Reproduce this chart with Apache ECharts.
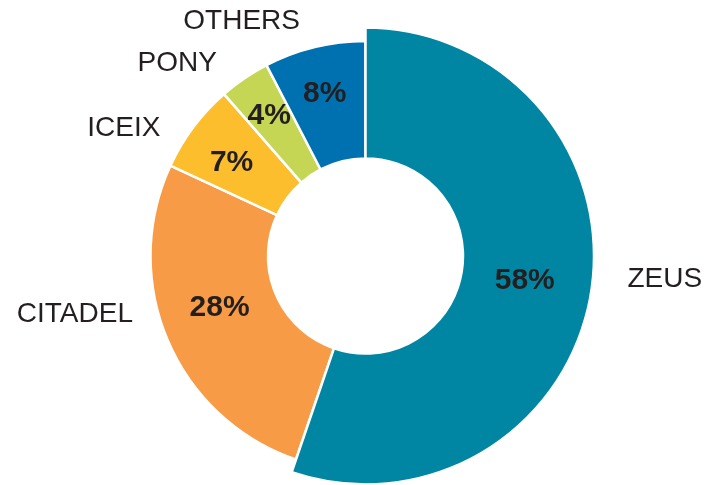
<!DOCTYPE html>
<html>
<head>
<meta charset="utf-8">
<script src="https://cdn.jsdelivr.net/npm/echarts@6/dist/echarts.min.js"></script>
<style>
  html, body { margin: 0; padding: 0; background: #ffffff; }
  #chart { width: 723px; height: 485px; }
</style>
</head>
<body>
<div id="chart"></div>
<script>
// ---- data ----
const categories = ['ZEUS', 'CITADEL', 'ICEIX', 'PONY', 'OTHERS'];
const shares = [58, 28, 7, 4, 8];

// ---- styles ----
const sliceColors = ['#0086A3', '#F89B46', '#FDBE2D', '#C5D654', '#0071B0'];
const textColor = '#231F20';
const fontFamily = '"Liberation Sans", Arial, Helvetica, sans-serif';
const center = [365.5, 256];
const innerR = 97.5;
const outerR = 215;
const zeusR = 228.5;
// label nudges (dx, dy) from the library's default label placement
const innerNudge = [[-4.5, -2.5], [0.5, -10.5], [-6.5, 2], [-6.6, -9], [-3, -8]];
const outerNudge = [[15, -14.5], [-1, -32.5], [-1, 10], [1, -2.5], [9, -11.5]];

const hidden = { color: 'rgba(0,0,0,0)', borderWidth: 0 };

function items(visibleFn, labelOn) {
  return categories.map((name, i) => ({
    name: name,
    value: shares[i],
    itemStyle: visibleFn(i) ? { color: sliceColors[i], borderColor: '#ffffff', borderWidth: 2.5 } : hidden,
    label: { show: labelOn(i) }
  }));
}

const base = {
  type: 'pie',
  center: center,
  startAngle: 90,
  clockwise: true,
  avoidLabelOverlap: false,
  labelLine: { show: false },
  silent: true,
  emphasis: { disabled: true }
};

const innerLabel = {
  position: 'inside',
  formatter: '{c}%',
  color: textColor,
  fontFamily: fontFamily,
  fontWeight: 'bold',
  fontSize: 30
};

const chart = echarts.init(document.getElementById('chart'), null, { renderer: 'canvas' });
chart.setOption({
  animation: false,
  backgroundColor: '#ffffff',
  series: [
    Object.assign({}, base, {
      radius: [innerR, outerR],
      data: items(i => i !== 0, i => i !== 0),
      label: innerLabel,
      labelLayout: p => ({ dx: innerNudge[p.dataIndex][0], dy: innerNudge[p.dataIndex][1] })
    }),
    Object.assign({}, base, {
      radius: [innerR, zeusR],
      data: items(i => i === 0, i => i === 0),
      label: innerLabel,
      labelLayout: p => ({ dx: innerNudge[p.dataIndex][0], dy: innerNudge[p.dataIndex][1] })
    }),
    Object.assign({}, base, {
      radius: [innerR, outerR],
      data: items(i => false, i => true),
      label: {
        position: 'outside',
        formatter: '{b}',
        color: textColor,
        fontFamily: fontFamily,
        fontSize: 28
      },
      labelLine: { show: false, length: 15, length2: 15 },
      labelLayout: p => ({ dx: outerNudge[p.dataIndex][0], dy: outerNudge[p.dataIndex][1] })
    })
  ]
});
</script>
</body>
</html>
